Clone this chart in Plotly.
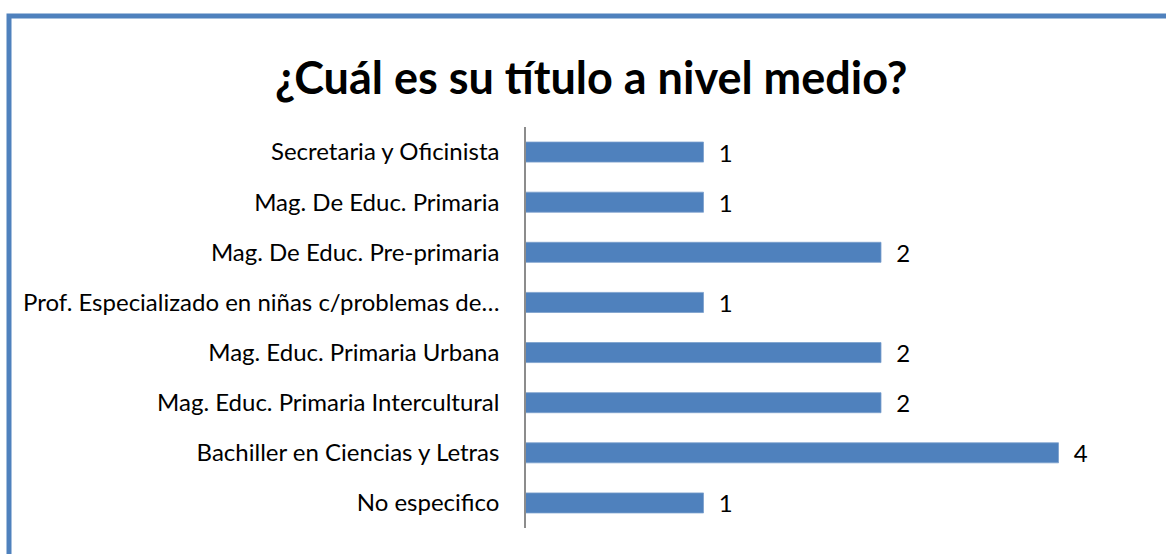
import plotly.graph_objects as go

TITLE = "¿Cuál es su título a nivel medio?"

# categorias de arriba hacia abajo
categorias = [
    "Secretaria y Oficinista",
    "Mag. De Educ. Primaria",
    "Mag. De Educ. Pre-primaria",
    "Prof. Especializado en niñas c/problemas de…",
    "Mag. Educ. Primaria Urbana",
    "Mag. Educ. Primaria Intercultural",
    "Bachiller en Ciencias y Letras",
    "No especifico",
]
cantidades = [1, 1, 2, 1, 2, 2, 4, 1]

BAR_COLOR = "#4F81BD"
BORDER_COLOR = "#4F81BD"
FONT = "Lato, 'Open Sans', sans-serif"

W, H = 1166, 554
L, R, T, B = 526, 26, 127, 26
plot_w = W - L - R
plot_h = H - T - B


def px_x(px):
    return (px - L) / plot_w


def px_y(py):
    return (H - B - py) / plot_h


fig = go.Figure(
    go.Bar(
        x=cantidades,
        y=categorias,
        orientation="h",
        marker=dict(color=BAR_COLOR, line=dict(color="#7BA0CD", width=0.8)),
        text=cantidades,
        texttemplate="  %{x}",
        textposition="outside",
        constraintext="none",
        textfont=dict(size=24, color="#000000", family=FONT),
        cliponaxis=False,
        hoverinfo="skip",
    )
)

fig.update_layout(
    width=W,
    height=H,
    margin=dict(l=L, r=R, t=T, b=B),
    paper_bgcolor="white",
    plot_bgcolor="white",
    bargap=0.6,
    showlegend=False,
    title=dict(
        text=TITLE,
        x=0.507,
        xref="container",
        xanchor="center",
        y=1 - 78 / H,
        yref="container",
        yanchor="middle",
        font=dict(size=45, family=FONT, color="#000000", weight="bold"),
    ),
    font=dict(family=FONT, size=24, color="#000000"),
)

# eje logaritmico base 2 (min 0.5), como en el original
fig.update_xaxes(
    type="log",
    range=[-0.30103, -0.30103 + plot_w * 0.30103 / 177.5],
    showticklabels=False,
    showgrid=False,
    zeroline=False,
    showline=False,
)
fig.update_yaxes(
    range=[len(categorias) - 0.5, -0.5],
    showline=True,
    linecolor="#8C8C8C",
    linewidth=1.5,
    ticks="",
    ticklabelstandoff=20,
    showgrid=False,
    tickfont=dict(size=24, family=FONT, color="#000000"),
)

# marco azul (izquierda y arriba)
fig.add_shape(
    type="path",
    xref="paper",
    yref="paper",
    path=f"M {px_x(9)} {px_y(H + 5)} L {px_x(9)} {px_y(16)} L {px_x(W + 5)} {px_y(16)}",
    line=dict(color=BORDER_COLOR, width=5),
)

fig.write_html(
    "out.html",
    config={"displayModeBar": False},
    post_script="document.body.style.margin='0';",
)
